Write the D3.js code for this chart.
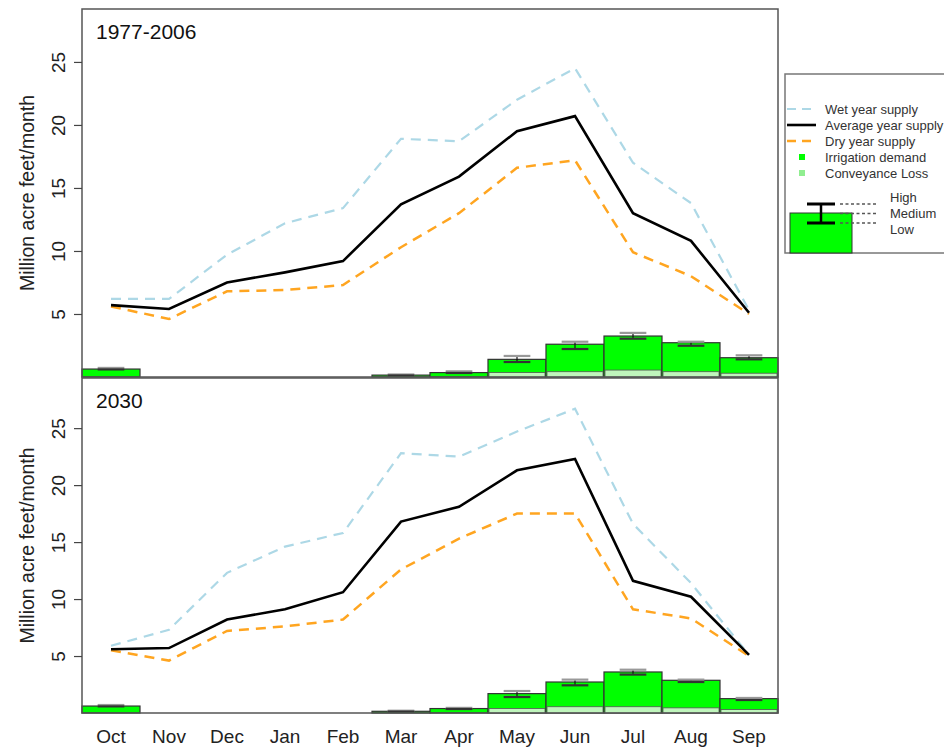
<!DOCTYPE html>
<html>
<head>
<meta charset="utf-8">
<script src="https://cdn.jsdelivr.net/npm/d3@7"></script>
<style>
  body { margin: 0; background: #fff; }
  svg { font-family: "Liberation Sans", Arial, sans-serif; }
</style>
</head>
<body>
<svg width="944" height="749"></svg>
<script>
const months = ['Oct', 'Nov', 'Dec', 'Jan', 'Feb', 'Mar', 'Apr', 'May', 'Jun', 'Jul', 'Aug', 'Sep']
const yTicks = [5, 10, 15, 20, 25]

// 1977-2006
const wet1977 = [6.2, 6.2, 9.7, 12.2, 13.4, 18.9, 18.7, 22.0, 24.5, 17.0, 13.8, 5.3]
const avg1977 = [5.7, 5.4, 7.5, 8.3, 9.2, 13.7, 15.9, 19.5, 20.7, 13.0, 10.8, 5.1]
const dry1977 = [5.6, 4.6, 6.8, 6.9, 7.3, 10.3, 13.0, 16.6, 17.2, 9.9, 8.0, 5.0]
const irr1977 = [0.63, 0, 0, 0, 0, 0.15, 0.35, 1.40, 2.60, 3.25, 2.72, 1.53]
const irrHigh1977 = [0.72, 0, 0, 0, 0, 0.2, 0.45, 1.67, 2.80, 3.50, 2.80, 1.72]
const irrLow1977 = [0.60, 0, 0, 0, 0, 0.12, 0.32, 1.19, 2.22, 3.04, 2.48, 1.40]
const conv1977 = [0, 0, 0, 0, 0, 0, 0, 0.35, 0.42, 0.55, 0.42, 0.3]

// 2030
const wet2030 = [5.9, 7.3, 12.3, 14.6, 15.8, 22.8, 22.5, 24.7, 26.7, 16.6, 11.4, 5.1]
const avg2030 = [5.6, 5.7, 8.2, 9.1, 10.6, 16.8, 18.1, 21.3, 22.3, 11.6, 10.2, 5.1]
const dry2030 = [5.5, 4.6, 7.2, 7.6, 8.2, 12.6, 15.3, 17.5, 17.5, 9.1, 8.3, 5.0]
const irr2030 = [0.61, 0, 0, 0, 0, 0.15, 0.39, 1.70, 2.72, 3.60, 2.87, 1.26]
const irrHigh2030 = [0.70, 0, 0, 0, 0, 0.2, 0.45, 1.93, 2.93, 3.80, 2.93, 1.32]
const irrLow2030 = [0.58, 0, 0, 0, 0, 0.12, 0.35, 1.40, 2.43, 3.37, 2.72, 1.14]
const conv2030 = [0, 0, 0, 0, 0, 0, 0, 0.4, 0.55, 0.55, 0.45, 0.3]

const svg = d3.select('svg')

const left = 82
const right = 778
const green = '#00ff00'
const lightGreen = '#bff5bc'

const xScale = d3.scaleBand()
  .domain(months)
  .range([left, right])
  .padding(0)

const panels = [
  { title: '1977-2006', top: 9, bottom: 377, ymax: 29.2,
    wet: wet1977, avg: avg1977, dry: dry1977, irr: irr1977, hi: irrHigh1977, lo: irrLow1977, conv: conv1977 },
  { title: '2030', top: 378, bottom: 713, ymax: 29.4,
    wet: wet2030, avg: avg2030, dry: dry2030, irr: irr2030, hi: irrHigh2030, lo: irrLow2030, conv: conv2030 }
]

const drawPanel = p => {
  const yScale = d3.scaleLinear()
    .domain([0, p.ymax])
    .range([p.bottom, p.top])

  const g = svg.append('g')

  // bars
  const bar = g.selectAll('.bar')
    .data(months.map((m, i) => ({ m, v: p.irr[i], hi: p.hi[i], lo: p.lo[i], c: p.conv[i] })))
    .enter()
    .append('g')
    .attr('transform', d => `translate(${xScale(d.m)}, 0)`)

  bar.filter(d => d.v > 0)
    .append('rect')
    .attr('y', d => yScale(d.v))
    .attr('height', d => yScale(0) - yScale(d.v))
    .attr('width', xScale.bandwidth())
    .attr('fill', green)
    .attr('stroke', '#333')
    .attr('stroke-width', 1.2)

  bar.filter(d => d.c > 0)
    .append('rect')
    .attr('x', 1)
    .attr('y', d => yScale(d.c))
    .attr('height', d => yScale(0) - yScale(d.c))
    .attr('width', xScale.bandwidth() - 2)
    .attr('fill', lightGreen)
    .attr('stroke', '#555')
    .attr('stroke-width', 0.8)

  const bw = xScale.bandwidth()
  const errBars = bar.filter(d => d.v > 0)
  errBars.append('line')
    .attr('x1', bw / 2).attr('x2', bw / 2)
    .attr('y1', d => yScale(d.hi)).attr('y2', d => yScale(d.lo))
    .attr('stroke', '#111').attr('stroke-width', 1.2)
  errBars.append('line')
    .attr('x1', bw * 0.27).attr('x2', bw * 0.73)
    .attr('y1', d => yScale(d.hi)).attr('y2', d => yScale(d.hi))
    .attr('stroke', '#999').attr('stroke-width', 2.2)
  errBars.append('line')
    .attr('x1', bw * 0.27).attr('x2', bw * 0.73)
    .attr('y1', d => yScale(d.lo)).attr('y2', d => yScale(d.lo))
    .attr('stroke', '#333').attr('stroke-width', 2.2)

  // supply lines
  const line = d3.line()
    .x((d, i) => xScale(months[i]) + bw / 2)
    .y(d => yScale(d))

  g.append('path')
    .attr('d', line(p.wet))
    .attr('fill', 'none')
    .attr('stroke', '#add8e6')
    .attr('stroke-width', 2.2)
    .attr('stroke-dasharray', '10,7')

  g.append('path')
    .attr('d', line(p.dry))
    .attr('fill', 'none')
    .attr('stroke', '#ffa520')
    .attr('stroke-width', 2.5)
    .attr('stroke-dasharray', '10,7')

  g.append('path')
    .attr('d', line(p.avg))
    .attr('fill', 'none')
    .attr('stroke', '#000')
    .attr('stroke-width', 2.6)

  // frame
  g.append('rect')
    .attr('x', left)
    .attr('y', p.top)
    .attr('width', right - left)
    .attr('height', p.bottom - p.top)
    .attr('fill', 'none')
    .attr('stroke', '#555')
    .attr('stroke-width', 1.5)

  // y axis
  const yAxis = d3.axisLeft(yScale)
    .tickValues(yTicks)
    .tickSize(8)
    .tickFormat(d3.format('d'))

  const yAxisG = g.append('g')
    .attr('transform', `translate(${left}, 0)`)
    .call(yAxis)
  yAxisG.select('.domain').remove()
  yAxisG.selectAll('.tick line').attr('stroke', '#444').attr('stroke-width', 1.2)
  yAxisG.selectAll('.tick text')
    .attr('transform', 'rotate(-90)')
    .attr('x', 0)
    .attr('y', -17)
    .attr('dy', 0)
    .attr('text-anchor', 'middle')
    .style('font-size', '19px')
    .style('font-family', '"Liberation Sans", Arial, sans-serif')
    .attr('fill', '#222')

  g.append('text')
    .attr('transform', `translate(34, ${(p.top + p.bottom) / 2}) rotate(-90)`)
    .attr('text-anchor', 'middle')
    .style('font-size', '19.5px')
    .attr('fill', '#222')
    .text('Million acre feet/month')

  g.append('text')
    .attr('x', 96)
    .attr('y', p.top + 30)
    .style('font-size', '21px')
    .attr('fill', '#111')
    .text(p.title)
}

panels.forEach(drawPanel)

// month labels
const xAxis = d3.axisBottom(xScale).tickSize(0)
const xAxisG = svg.append('g')
  .attr('transform', 'translate(0, 713)')
  .call(xAxis)
xAxisG.select('.domain').remove()
xAxisG.selectAll('.tick text')
  .attr('y', 17)
  .attr('dy', '0.71em')
  .style('font-size', '19px')
  .style('font-family', '"Liberation Sans", Arial, sans-serif')
  .attr('fill', '#222')

// legend
const leg = svg.append('g')
leg.append('rect')
  .attr('x', 785).attr('y', 74)
  .attr('width', 170).attr('height', 179)
  .attr('fill', '#fff')
  .attr('stroke', '#777')
  .attr('stroke-width', 1.5)

const legendItems = [
  { label: 'Wet year supply', kind: 'line', color: '#add8e6', dash: '9,6', w: 2 },
  { label: 'Average year supply', kind: 'line', color: '#000', dash: null, w: 2.6 },
  { label: 'Dry year supply', kind: 'line', color: '#ffa520', dash: '9,6', w: 2.5 },
  { label: 'Irrigation demand', kind: 'box', color: green },
  { label: 'Conveyance Loss', kind: 'box', color: '#90ee90' }
]
const legY = d3.scalePoint()
  .domain(legendItems.map(d => d.label))
  .range([109, 173])

legendItems.forEach(d => {
  const y = legY(d.label)
  if (d.kind === 'line') {
    leg.append('line')
      .attr('x1', 787).attr('x2', 816)
      .attr('y1', y).attr('y2', y)
      .attr('stroke', d.color)
      .attr('stroke-width', d.w)
      .attr('stroke-dasharray', d.dash)
  } else {
    leg.append('rect')
      .attr('x', 799).attr('y', y - 3)
      .attr('width', 6).attr('height', 6)
      .attr('fill', d.color)
  }
  leg.append('text')
    .attr('x', 825).attr('y', y + 4.5)
    .style('font-size', '13px')
    .attr('fill', '#333')
    .text(d.label)
})

// sample bar with error bar
leg.append('rect')
  .attr('x', 790).attr('y', 213)
  .attr('width', 62).attr('height', 40)
  .attr('fill', green)
  .attr('stroke', '#333')
  .attr('stroke-width', 1)
leg.append('line')
  .attr('x1', 821).attr('x2', 821).attr('y1', 204).attr('y2', 223)
  .attr('stroke', '#000').attr('stroke-width', 2.5)
;[204, 223].forEach(y => {
  leg.append('line')
    .attr('x1', 807).attr('x2', 835).attr('y1', y).attr('y2', y)
    .attr('stroke', '#000').attr('stroke-width', 3)
})
const levels = [
  { label: 'High', y: 204, ty: 202 },
  { label: 'Medium', y: 213.5, ty: 218 },
  { label: 'Low', y: 223, ty: 234 }
]
levels.forEach(l => {
  leg.append('line')
    .attr('x1', 840).attr('x2', 876).attr('y1', l.y).attr('y2', l.y)
    .attr('stroke', '#555').attr('stroke-width', 1.3)
    .attr('stroke-dasharray', '3,2.5')
  leg.append('text')
    .attr('x', 890).attr('y', l.ty)
    .style('font-size', '13px')
    .attr('fill', '#333')
    .text(l.label)
})
</script>
</body>
</html>
